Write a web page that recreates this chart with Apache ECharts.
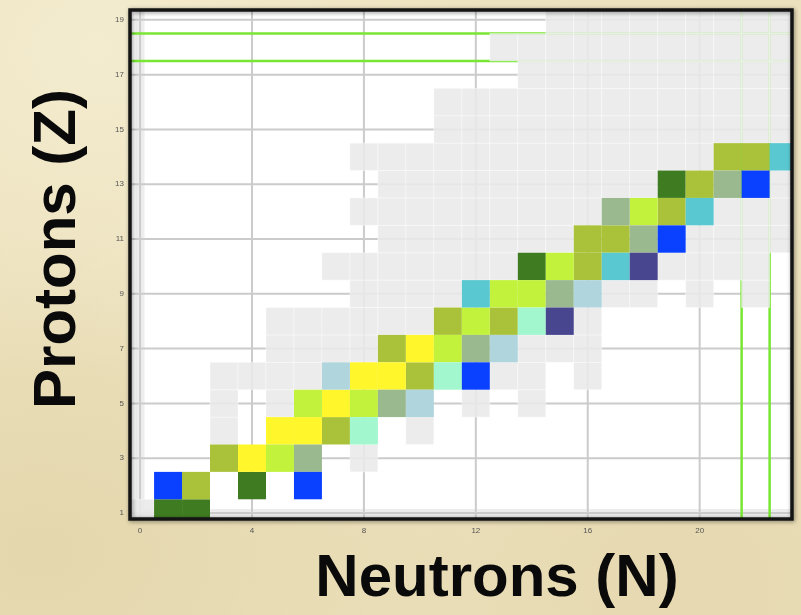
<!DOCTYPE html>
<html>
<head>
<meta charset="utf-8">
<script src="https://cdn.jsdelivr.net/npm/echarts@6/dist/echarts.min.js"></script>
<style>
  html, body { margin: 0; padding: 0; }
  body {
    width: 801px; height: 615px; overflow: hidden;
    background-color: #ece1bd;
    background-image:
      radial-gradient(ellipse at 12% 8%, rgba(245,238,210,0.85) 0%, rgba(245,238,210,0) 40%),
      radial-gradient(ellipse at 85% 95%, rgba(228,214,172,0.7) 0%, rgba(228,214,172,0) 50%),
      radial-gradient(ellipse at 5% 90%, rgba(226,212,168,0.8) 0%, rgba(226,212,168,0) 40%),
      radial-gradient(ellipse at 60% 40%, rgba(242,234,204,0.6) 0%, rgba(242,234,204,0) 60%);
  }
  #chart { width: 801px; height: 615px; }
</style>
</head>
<body>
<div id="chart"></div>
<script>
// Axis ticks
const neutronTicks = [0, 4, 8, 12, 16, 20];
const protonTicks = [1, 3, 5, 7, 9, 11, 13, 15, 17, 19];

// Guide lines between cell rows / columns
const guideProtonLines = [17.5, 18.5];
const guideNeutronLines = [21.5, 22.5];

// Known but unbound / unobserved nuclides, listed as N values for Z = 1 .. 19
const grayNeutronsByZ = [
  [0],
  [],
  [8],
  [3, 10],
  [3, 5, 12, 14],
  [3, 4, 5, 6, 13, 14, 16],
  [5, 6, 7, 8, 14, 15, 16],
  [5, 6, 7, 8, 9, 10, 16],
  [8, 9, 10, 11, 17, 18, 20, 22],
  [7, 8, 9, 10, 11, 12, 13, 19, 20, 21, 22],
  [9, 10, 11, 12, 13, 14, 15, 20, 21, 22, 23],
  [8, 9, 10, 11, 12, 13, 14, 15, 16, 21, 22, 23],
  [9, 10, 11, 12, 13, 14, 15, 16, 17, 18, 23],
  [8, 9, 10, 11, 12, 13, 14, 15, 16, 17, 18, 19, 20],
  [11, 12, 13, 14, 15, 16, 17, 18, 19, 20, 21, 22, 23],
  [11, 12, 13, 14, 15, 16, 17, 18, 19, 20, 21, 22, 23],
  [14, 15, 16, 17, 18, 19, 20, 21, 22, 23],
  [13, 14, 15, 16, 17, 18, 19, 20, 21, 22, 23],
  [15, 16, 17, 18, 19, 20, 21, 22, 23]
];

// Coloured nuclides, [N, Z]
const darkGreenCells = [[1, 1], [2, 1], [4, 2], [14, 10], [19, 13]];
const oliveCells = [[2, 2], [3, 3], [7, 4], [10, 6], [9, 7], [11, 8], [13, 8], [16, 10],
                    [16, 11], [17, 11], [19, 12], [20, 13], [21, 14], [22, 14]];
const yellowCells = [[4, 3], [5, 4], [6, 4], [7, 5], [8, 6], [9, 6], [10, 7]];
const limeCells = [[5, 3], [6, 5], [8, 5], [11, 7], [12, 8], [13, 9], [14, 9], [15, 10], [18, 12]];
const sageCells = [[6, 3], [9, 5], [12, 7], [15, 9], [18, 11], [17, 12], [21, 13]];
const lightBlueCells = [[10, 5], [7, 6], [13, 7], [16, 9]];
const mintCells = [[8, 4], [11, 6], [14, 8]];
const blueCells = [[1, 2], [6, 2], [12, 6], [19, 11], [22, 13]];
const cyanCells = [[12, 9], [17, 10], [20, 12], [23, 14]];
const indigoCells = [[15, 8], [18, 10]];

const grayCells = [];
grayNeutronsByZ.forEach(function (list, i) {
  list.forEach(function (n) { grayCells.push([n, i + 1]); });
});

function cellRenderer(stroke) {
  return function (params, api) {
    const p = api.coord([api.value(0) - 0.5, api.value(1) + 0.5]);
    const s = api.size([1, 1]);
    return {
      type: 'rect',
      shape: { x: p[0], y: p[1], width: s[0], height: s[1] },
      style: { fill: api.visual('color'), stroke: stroke || null, lineWidth: stroke ? 1 : 0 }
    };
  };
}

function cellSeries(name, cells, color, z, stroke) {
  return {
    type: 'custom', name: name, coordinateSystem: 'cartesian2d',
    clip: true, silent: true, z: z,
    itemStyle: { color: color },
    data: cells, encode: { x: 0, y: 1 },
    renderItem: cellRenderer(stroke)
  };
}

function verticalLines(values, color, width, z) {
  return {
    type: 'custom', coordinateSystem: 'cartesian2d', clip: true, silent: true, z: z,
    data: values.map(function (v) { return [v, 10]; }), encode: { x: 0, y: 1 },
    renderItem: function (params, api) {
      const cs = params.coordSys;
      const px = api.coord([api.value(0), api.value(1)])[0];
      return { type: 'line', shape: { x1: px, y1: cs.y, x2: px, y2: cs.y + cs.height },
               style: { stroke: color, lineWidth: width } };
    }
  };
}

function horizontalLines(values, color, width, z) {
  return {
    type: 'custom', coordinateSystem: 'cartesian2d', clip: true, silent: true, z: z,
    data: values.map(function (v) { return [10, v]; }), encode: { x: 0, y: 1 },
    renderItem: function (params, api) {
      const cs = params.coordSys;
      const py = api.coord([api.value(0), api.value(1)])[1];
      return { type: 'line', shape: { x1: cs.x, y1: py, x2: cs.x + cs.width, y2: py },
               style: { stroke: color, lineWidth: width } };
    }
  };
}

const frameSeries = {
  type: 'custom', coordinateSystem: 'cartesian2d', clip: false, silent: true, z: 20,
  data: [[10, 10]], encode: { x: 0, y: 1 },
  renderItem: function (params) {
    const cs = params.coordSys;
    return {
      type: 'rect',
      shape: { x: cs.x, y: cs.y, width: cs.width, height: cs.height },
      style: { fill: null, stroke: '#141414', lineWidth: 3.5,
               shadowBlur: 4, shadowColor: 'rgba(0,0,0,0.45)', shadowOffsetX: 1, shadowOffsetY: 1 }
    };
  }
};

const chart = echarts.init(document.getElementById('chart'));
chart.setOption({
  backgroundColor: 'transparent',
  animation: false,
  grid: { left: 130, right: 9, top: 10, bottom: 96, show: true, backgroundColor: '#ffffff', borderWidth: 0 },
  xAxis: {
    type: 'value', min: -0.36, max: 23.3,
    splitLine: { show: false }, axisLine: { show: false },
    axisTick: { show: true, inside: true, length: 3, customValues: neutronTicks, lineStyle: { color: '#222', width: 1 } },
    axisLabel: { customValues: neutronTicks, fontSize: 8, color: '#555', margin: 8, fontFamily: 'Liberation Sans' }
  },
  yAxis: {
    type: 'value', min: 0.78, max: 19.36,
    splitLine: { show: false }, axisLine: { show: false },
    axisTick: { show: true, inside: true, length: 4, customValues: protonTicks, lineStyle: { color: '#222', width: 1.5 } },
    axisLabel: { customValues: protonTicks, fontSize: 8, color: '#555', margin: 6, fontFamily: 'Liberation Sans' }
  },
  graphic: [
    { type: 'text', x: 58, y: 249, rotation: Math.PI / 2, z: 30,
      style: { text: 'Protons (Z)', fill: '#0a0a0a', font: 'bold 60px "Liberation Sans", Arial, sans-serif',
               align: 'center', verticalAlign: 'middle' } },
    { type: 'text', x: 497, y: 579, z: 30,
      style: { text: 'Neutrons (N)', fill: '#0a0a0a', font: 'bold 60px "Liberation Sans", Arial, sans-serif',
               align: 'center', verticalAlign: 'middle' } }
  ],
  series: [
    verticalLines([0], '#ededed', 9, 1),
    horizontalLines([1], '#ededed', 8, 1),
    verticalLines(neutronTicks, '#cbcbcb', 2, 2),
    horizontalLines(protonTicks, '#cbcbcb', 2, 2),
    verticalLines(guideNeutronLines, '#78e632', 2.5, 3),
    horizontalLines(guideProtonLines, '#78e632', 2.5, 3),
    cellSeries('unbound', grayCells, 'rgba(233,233,233,0.88)', 4, 'rgba(255,255,255,0.4)'),
    cellSeries('darkGreen', darkGreenCells, '#3f7c21', 5),
    cellSeries('olive', oliveCells, '#aac239', 5),
    cellSeries('yellow', yellowCells, '#fff62c', 5),
    cellSeries('lime', limeCells, '#c2f23c', 5),
    cellSeries('sage', sageCells, '#9ab98e', 5),
    cellSeries('lightBlue', lightBlueCells, '#b1d5dd', 5),
    cellSeries('mint', mintCells, '#a2f7cf', 5),
    cellSeries('blue', blueCells, '#0a40ff', 5),
    cellSeries('cyan', cyanCells, '#5ac8d0', 5),
    cellSeries('indigo', indigoCells, '#48468f', 5),
    frameSeries
  ]
});
</script>
</body>
</html>
